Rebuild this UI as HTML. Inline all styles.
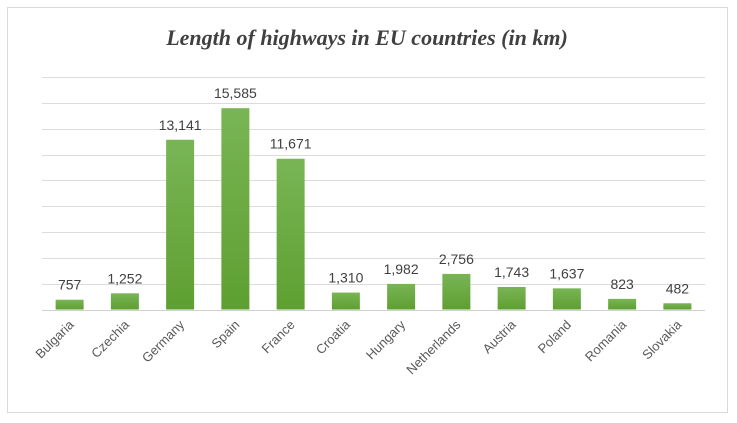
<!DOCTYPE html>
<html><head><meta charset="utf-8"><style>
html,body{margin:0;padding:0;background:#fff;}
svg{display:block;}
</style></head><body>
<svg id="chart" width="737" height="423" xmlns="http://www.w3.org/2000/svg">
<defs><linearGradient id="g" x1="0" y1="0" x2="0" y2="1"><stop offset="0" stop-color="#79b555"/><stop offset="1" stop-color="#5e9f31"/></linearGradient></defs>
<rect x="7.5" y="7.5" width="720" height="405" fill="#fff" stroke="#d9d9d9"/>
<text x="367" y="45" text-anchor="middle" font-family="Liberation Serif, serif" font-style="italic" font-weight="bold" font-size="22" fill="#404040">Length of highways in EU countries (in km)</text>
<g id="grid"></g><g id="bars"></g><g id="labels"></g>
</svg>
<script>
const categories=["Bulgaria","Czechia","Germany","Spain","France","Croatia","Hungary","Netherlands","Austria","Poland","Romania","Slovakia"];
const values=[757,1252,13141,15585,11671,1310,1982,2756,1743,1637,823,482];
const valueLabels=["757","1,252","13,141","15,585","11,671","1,310","1,982","2,756","1,743","1,637","823","482"];
const gridTicks=[0,2000,4000,6000,8000,10000,12000,14000,16000,18000];
const NS="http://www.w3.org/2000/svg";
const x0=42,x1=705,yBase=309.5,yTop=77,maxV=18000;
const bw=(x1-x0)/categories.length;
function y(v){return yBase-(v/maxV)*(yBase-yTop);}
function xc(i){return x0+bw*(i+0.5);}
function mk(t,a,p){const e=document.createElementNS(NS,t);for(const k in a)e.setAttribute(k,a[k]);p.appendChild(e);return e;}
const G=document.getElementById('grid'),B=document.getElementById('bars'),L=document.getElementById('labels');
gridTicks.forEach(t=>{
 const l=mk('line',{x1:x0,x2:x1,y1:Math.round(y(t))+0.5,y2:Math.round(y(t))+0.5,stroke:t===0?'#d0d0d0':'#dcdcdc','stroke-width':1},G);
 
 
});
categories.forEach((c,i)=>{
 const r=mk('rect',{x:xc(i)-14,y:y(values[i]),width:28,height:yBase-y(values[i]),fill:'url(#g)'},B);
 
 
 const v=mk('text',{x:xc(i),y:y(values[i])-10,'text-anchor':'middle','font-family':'Liberation Sans, sans-serif','font-size':14,fill:'#404040'},L);
 v.textContent=valueLabels[i];
 
 
 const t=mk('text',{x:0,y:0,'text-anchor':'end','font-family':'Liberation Sans, sans-serif','font-size':13,fill:'#595959',transform:`translate(${xc(i)+5},${yBase+16}) rotate(-45)`},L);
 t.textContent=c;
 
 
});
</script>
</body></html>
